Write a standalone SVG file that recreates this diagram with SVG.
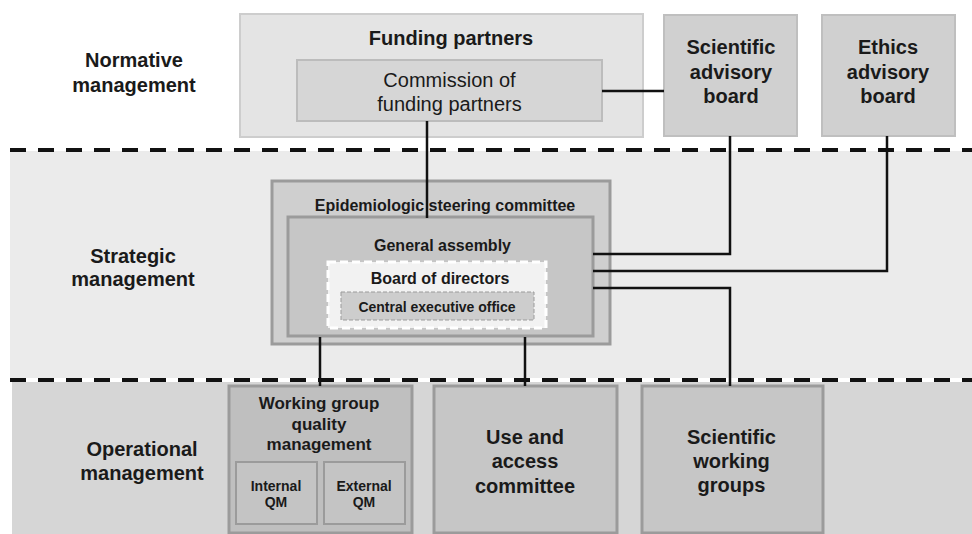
<svg xmlns="http://www.w3.org/2000/svg" width="972" height="534" viewBox="0 0 972 534">
<style>
text{font-family:"Liberation Sans",Arial,Helvetica,sans-serif;fill:#1a1a1a;text-anchor:middle}
.b{font-weight:bold}
.lab{font-weight:bold;font-size:20px}
.light{fill:#e4e4e4;stroke:#cdcdcd;stroke-width:2}
.adv{fill:#d0d0d0;stroke:#bfbfbf;stroke-width:2}
.mid{stroke:#9b9b9b;stroke-width:3}
.sep{stroke:#111;stroke-width:4;stroke-dasharray:16 12;fill:none}
.con{stroke:#111;stroke-width:2.5;fill:none}
</style>
<rect width="972" height="534" fill="#ffffff"/>
<g id="bands">
<rect x="10" y="151" width="962" height="227" fill="#ebebeb"/>
<rect x="12" y="382" width="960" height="152" fill="#d6d6d6"/>
<line class="sep" x1="10" y1="150" x2="972" y2="150"/>
<line class="sep" x1="10" y1="380" x2="972" y2="380"/>
</g>
<g id="labels">
<text class="lab" x="134" y="67">Normative</text>
<text class="lab" x="134" y="92">management</text>
<text class="lab" x="133" y="263">Strategic</text>
<text class="lab" x="133" y="286">management</text>
<text class="lab" x="142" y="456">Operational</text>
<text class="lab" x="142" y="480">management</text>
</g>
<g id="funding-partners">
<rect class="light" x="240" y="14" width="403" height="123"/>
<text class="b" font-size="20" x="451" y="45">Funding partners</text>
</g>
<g id="commission">
<rect x="297" y="60" width="305" height="61" fill="#d6d6d6" stroke="#bcbcbc" stroke-width="2"/>
<text font-size="20" x="449.5" y="87">Commission of</text>
<text font-size="20" x="449.5" y="110.5">funding partners</text>
</g>
<g id="scientific-advisory-board">
<rect class="adv" x="664" y="15" width="133" height="121"/>
<text class="b" font-size="20" x="731" y="54">Scientific</text>
<text class="b" font-size="20" x="731" y="78.5">advisory</text>
<text class="b" font-size="20" x="731" y="102.5">board</text>
</g>
<g id="ethics-advisory-board">
<rect class="adv" x="822" y="15" width="133" height="121"/>
<text class="b" font-size="20" x="888" y="54">Ethics</text>
<text class="b" font-size="20" x="888" y="78.5">advisory</text>
<text class="b" font-size="20" x="888" y="102.5">board</text>
</g>
<g id="steering-committee">
<rect class="mid" x="272" y="181" width="338" height="163" fill="#cfcfcf"/>
<text class="b" font-size="16" x="445" y="210.5">Epidemiologic steering committee</text>
</g>
<g id="general-assembly">
<rect class="mid" x="288" y="217" width="305" height="119" fill="#c6c6c6"/>
<text class="b" font-size="16" x="442.5" y="250.5">General assembly</text>
</g>
<g id="board-of-directors">
<rect x="328" y="262" width="218" height="66" fill="#f2f2f2" stroke="#ffffff" stroke-width="3" stroke-dasharray="8 4"/>
<text class="b" font-size="16" x="440" y="284">Board of directors</text>
</g>
<g id="central-executive-office">
<rect x="341" y="292" width="193" height="28" fill="#cdcdcd" stroke="#9b9b9b" stroke-width="1" stroke-dasharray="4 2"/>
<text class="b" font-size="14" x="437" y="311.5">Central executive office</text>
</g>
<g id="wg-quality-management">
<rect class="mid" x="229" y="386" width="183" height="147" fill="#bfbfbf"/>
<text class="b" font-size="17" x="319" y="409">Working group</text>
<text class="b" font-size="17" x="319" y="430">quality</text>
<text class="b" font-size="17" x="319" y="450">management</text>
</g>
<g id="internal-qm">
<rect x="236" y="462" width="81" height="62" fill="#c4c4c4" stroke="#9b9b9b" stroke-width="2"/>
<text class="b" font-size="14" x="276" y="490.5">Internal</text>
<text class="b" font-size="14" x="276" y="506.5">QM</text>
</g>
<g id="external-qm">
<rect x="324" y="462" width="81" height="62" fill="#c4c4c4" stroke="#9b9b9b" stroke-width="2"/>
<text class="b" font-size="14" x="364" y="490.5">External</text>
<text class="b" font-size="14" x="364" y="506.5">QM</text>
</g>
<g id="use-and-access-committee">
<rect class="mid" x="434" y="386" width="183" height="147" fill="#c6c6c6"/>
<text class="b" font-size="20" x="525" y="444">Use and</text>
<text class="b" font-size="20" x="525" y="468">access</text>
<text class="b" font-size="20" x="525" y="492.5">committee</text>
</g>
<g id="scientific-working-groups">
<rect class="mid" x="642" y="386" width="181" height="147" fill="#c6c6c6"/>
<text class="b" font-size="20" x="731.5" y="443.5">Scientific</text>
<text class="b" font-size="20" x="731.5" y="467.5">working</text>
<text class="b" font-size="20" x="731.5" y="491.5">groups</text>
</g>
<g id="connectors">
<path class="con" d="M602,91 H664"/>
<path class="con" d="M427,121 V218"/>
<path class="con" d="M593,254 H730 V136"/>
<path class="con" d="M593,271 H887 V136"/>
<path class="con" d="M593,288 H730 V386"/>
<path class="con" d="M320,337 V386"/>
<path class="con" d="M525,337 V386"/>
</g>
</svg>
